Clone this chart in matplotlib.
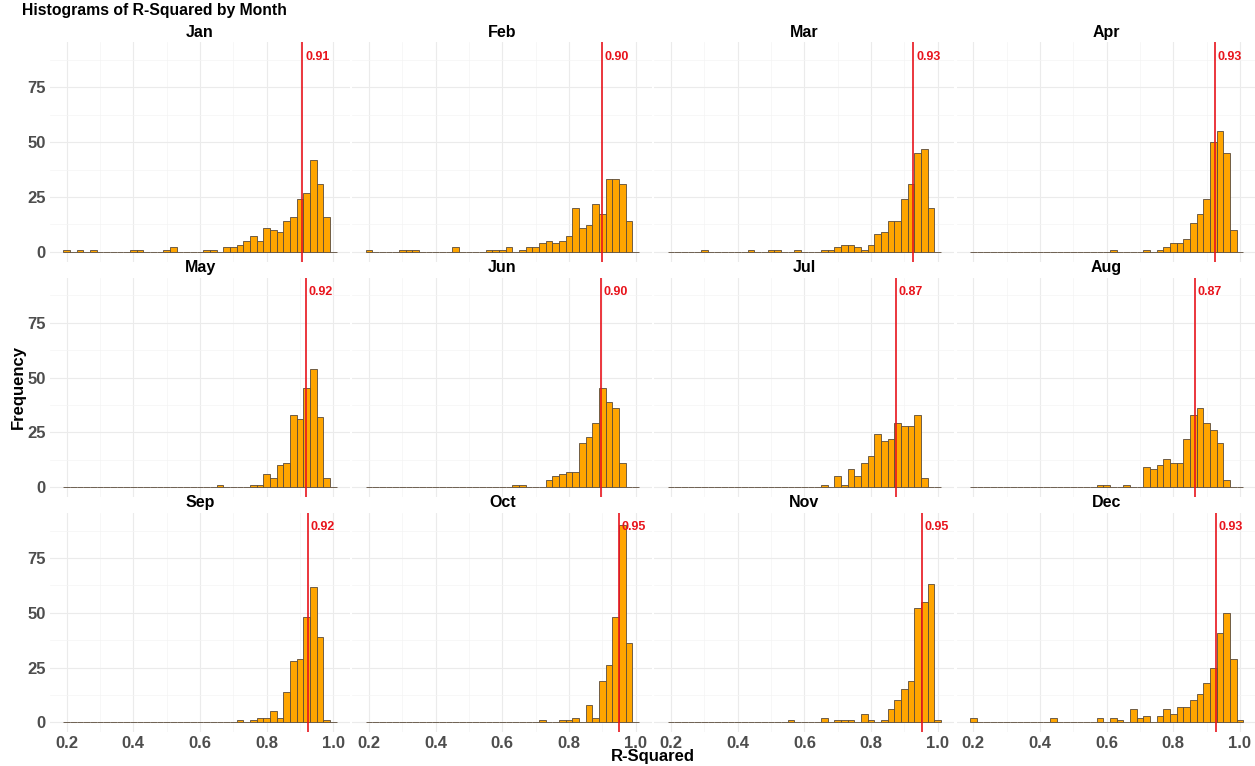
import numpy as np
import matplotlib
matplotlib.use('Agg')
import matplotlib.pyplot as plt

plt.rcParams['font.family'] = ['Liberation Sans', 'DejaVu Sans']

# bin centres shared by all panels (binwidth 0.02)
bin_centers = np.round(np.arange(0.20, 1.001, 0.02), 2)

months = ['Jan', 'Feb', 'Mar', 'Apr', 'May', 'Jun',
          'Jul', 'Aug', 'Sep', 'Oct', 'Nov', 'Dec']

# counts per bin
jan = [1, 0, 1, 0, 1, 0, 0, 0, 0, 0,
       1, 1, 0, 0, 0, 1, 2, 0, 0, 0,
       0, 1, 1, 0, 2, 2, 3, 5, 7, 5,
       11, 10, 9, 14, 16, 24, 27, 42, 31, 16, 0]
feb = [1, 0, 0, 0, 0, 1, 1, 1, 0, 0,
       0, 0, 0, 2, 0, 0, 0, 0, 1, 1,
       1, 2, 0, 1, 2, 2, 4, 5, 4, 5,
       7, 20, 11, 12, 22, 17, 33, 33, 31, 14, 0]
mar = [0, 0, 0, 0, 0, 1, 0, 0, 0, 0,
       0, 0, 1, 0, 0, 1, 1, 0, 0, 1,
       0, 0, 0, 1, 1, 2, 3, 3, 2, 1,
       3, 8, 9, 14, 14, 24, 31, 45, 47, 20, 0]
apr = [0, 0, 0, 0, 0, 0, 0, 0, 0, 0,
       0, 0, 0, 0, 0, 0, 0, 0, 0, 0,
       0, 1, 0, 0, 0, 0, 1, 0, 1, 2,
       4, 4, 6, 13, 17, 24, 50, 55, 45, 10, 0]
may = [0, 0, 0, 0, 0, 0, 0, 0, 0, 0,
       0, 0, 0, 0, 0, 0, 0, 0, 0, 0,
       0, 0, 0, 1, 0, 0, 0, 0, 1, 1,
       6, 4, 10, 11, 33, 31, 45, 54, 32, 4, 0]
jun = [0, 0, 0, 0, 0, 0, 0, 0, 0, 0,
       0, 0, 0, 0, 0, 0, 0, 0, 0, 0,
       0, 0, 1, 1, 0, 0, 0, 3, 5, 6,
       7, 7, 20, 23, 29, 45, 39, 36, 11, 0, 0]
jul = [0, 0, 0, 0, 0, 0, 0, 0, 0, 0,
       0, 0, 0, 0, 0, 0, 0, 0, 0, 0,
       0, 0, 0, 1, 0, 5, 1, 8, 5, 11,
       14, 24, 21, 22, 29, 28, 28, 33, 4, 0, 0]
aug = [0, 0, 0, 0, 0, 0, 0, 0, 0, 0,
       0, 0, 0, 0, 0, 0, 0, 0, 0, 1,
       1, 0, 0, 1, 0, 0, 9, 8, 10, 13,
       11, 11, 22, 33, 36, 29, 26, 20, 3, 0, 0]
sep = [0, 0, 0, 0, 0, 0, 0, 0, 0, 0,
       0, 0, 0, 0, 0, 0, 0, 0, 0, 0,
       0, 0, 0, 0, 0, 0, 1, 0, 1, 2,
       2, 5, 2, 14, 28, 29, 48, 62, 39, 1, 0]
oct_ = [0, 0, 0, 0, 0, 0, 0, 0, 0, 0,
        0, 0, 0, 0, 0, 0, 0, 0, 0, 0,
        0, 0, 0, 0, 0, 0, 1, 0, 0, 1,
        1, 2, 0, 8, 2, 19, 26, 48, 90, 36, 0]
nov = [0, 0, 0, 0, 0, 0, 0, 0, 0, 0,
       0, 0, 0, 0, 0, 0, 0, 0, 1, 0,
       0, 0, 0, 2, 0, 1, 1, 1, 0, 4,
       1, 0, 1, 6, 10, 15, 19, 52, 55, 63, 1]
dec = [2, 0, 0, 0, 0, 0, 0, 0, 0, 0,
       0, 0, 2, 0, 0, 0, 0, 0, 0, 2,
       0, 2, 1, 0, 6, 2, 3, 0, 3, 6,
       4, 7, 7, 10, 13, 18, 25, 41, 50, 29, 1]

counts = [jan, feb, mar, apr, may, jun, jul, aug, sep, oct_, nov, dec]

# median R-squared per month (red line)
medians = [0.907, 0.898, 0.927, 0.926, 0.917, 0.897,
           0.874, 0.866, 0.923, 0.951, 0.952, 0.928]

W, H = 1255, 766
fig = plt.figure(figsize=(W / 100, H / 100), dpi=100)

# layout in pixels
col_left0, col_stride, panel_w = 50.0, 302.2, 300.0
base0, row_stride, unit_px = 251.7, 235.3, 2.19
ymin, ymax = -4.55, 95.55
xmin = 0.2 - 16.7 / 333.3
xmax = xmin + panel_w / 333.3

tick_col = '#4d4d4d'

for i, month in enumerate(months):
    r, c = divmod(i, 4)
    left = col_left0 + c * col_stride
    top = base0 + r * row_stride - ymax * unit_px
    height = (ymax - ymin) * unit_px
    ax = fig.add_axes([left / W, 1 - (top + height) / H, panel_w / W, height / H])

    ax.bar(bin_centers, counts[i], width=0.02, color='#FFA500',
           edgecolor='#5a4a3a', linewidth=0.6, zorder=2)
    ax.axvline(medians[i], color='#e8141c', linewidth=1.2, zorder=3)
    ax.text(medians[i] + 0.008, 89, f'{medians[i]:.2f}', color='#e8141c',
            fontsize=9, fontweight='bold', va='center', ha='left', zorder=4)

    ax.set_xlim(xmin, xmax)
    ax.set_ylim(ymin, ymax)
    ax.set_xticks([0.2, 0.4, 0.6, 0.8, 1.0])
    ax.set_xticks([0.3, 0.5, 0.7, 0.9], minor=True)
    ax.set_yticks([0, 25, 50, 75])
    ax.set_yticks([12.5, 37.5, 62.5, 87.5], minor=True)
    ax.grid(which='major', color='#ebebeb', linewidth=0.8, zorder=0)
    ax.grid(which='minor', color='#f4f4f4', linewidth=0.5, zorder=0)
    ax.set_axisbelow(True)
    for s in ax.spines.values():
        s.set_visible(False)
    ax.tick_params(which='both', length=0, labelsize=12, labelcolor=tick_col, pad=3)
    if c != 0:
        ax.set_yticklabels([])
    else:
        ax.set_yticklabels(['0', '25', '50', '75'], fontweight='bold')
    if r != 2:
        ax.set_xticklabels([])
    else:
        ax.set_xticklabels(['0.2', '0.4', '0.6', '0.8', '1.0'], fontweight='bold')

    ax.set_title(month, fontsize=11.5, fontweight='bold', pad=4)

fig.text(22 / W, 1 - 11 / H, 'Histograms of R-Squared by Month',
         fontsize=11.3, fontweight='bold', ha='left', va='center')
fig.text(653 / W, 1 - 757 / H, 'R-Squared', fontsize=12, fontweight='bold',
         ha='center', va='center')
fig.text(18 / W, 1 - 387 / H, 'Frequency', fontsize=12, fontweight='bold',
         ha='center', va='center', rotation=90)

plt.savefig('out.png', dpi=100, facecolor='white')
